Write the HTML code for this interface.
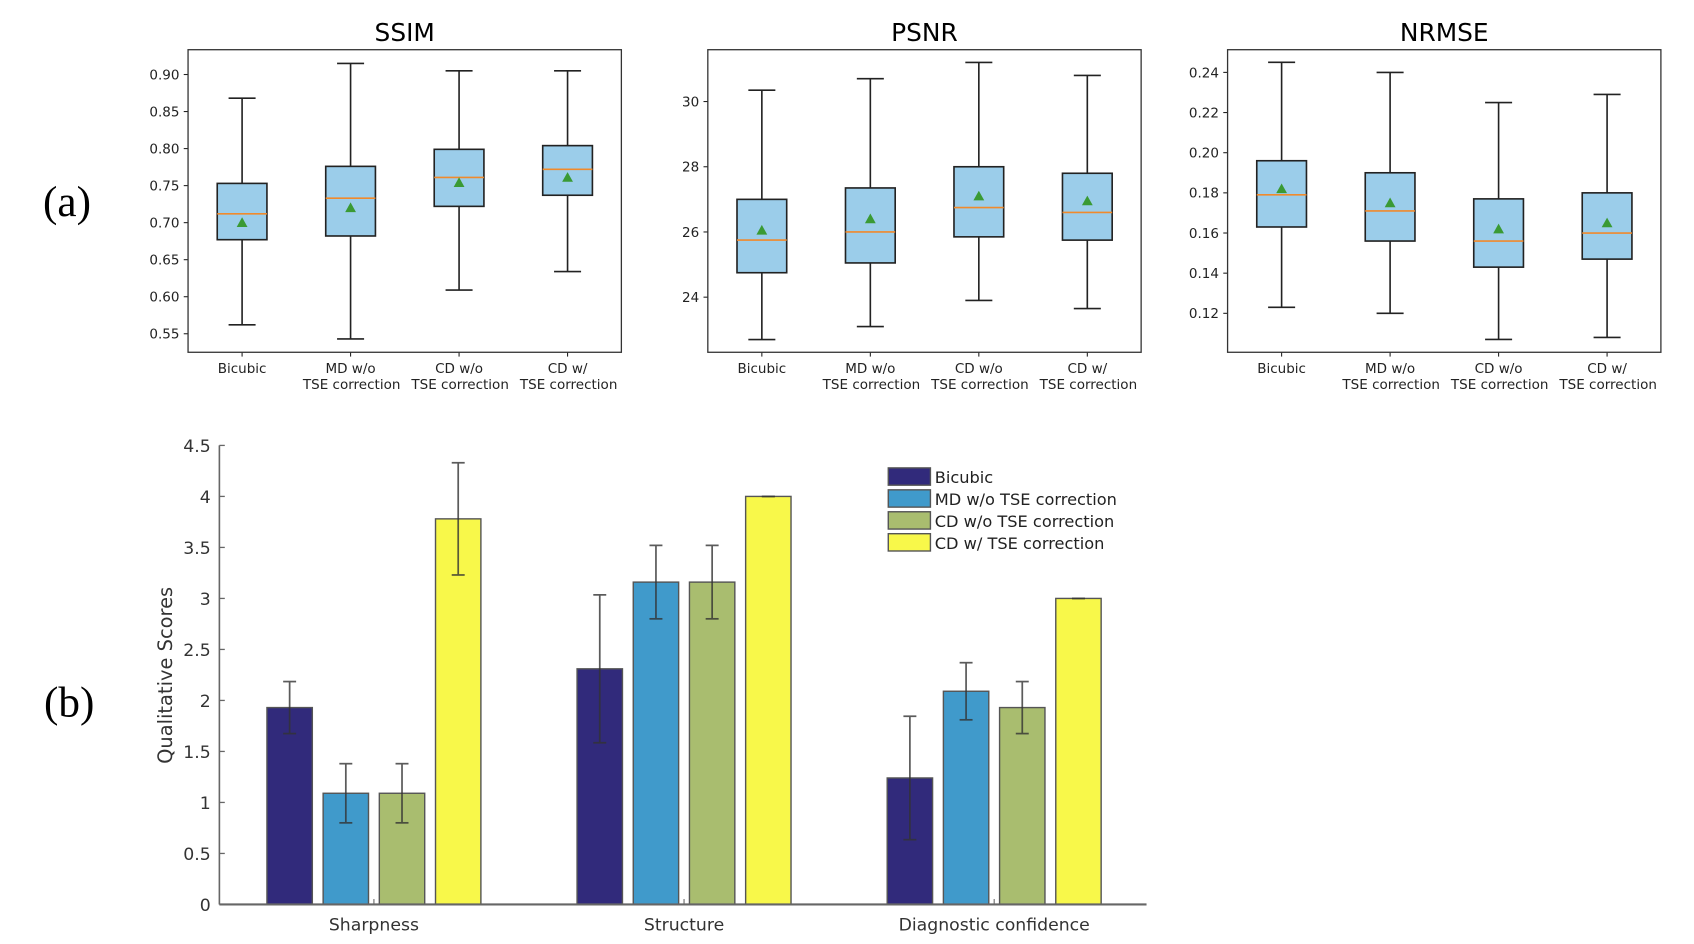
<!DOCTYPE html>
<html><head><meta charset="utf-8"><style>
html,body{margin:0;padding:0;background:#fff;}
svg{display:block;font-family:"DejaVu Sans","Liberation Sans",sans-serif;}
</style></head><body>
<svg id="fig" width="1694" height="944" viewBox="0 0 1567.6 873.6" xmlns="http://www.w3.org/2000/svg">
<text x="62" y="200" font-family="Liberation Serif,serif" font-size="40" text-anchor="middle">(a)</text>
<text x="64" y="663" font-family="Liberation Serif,serif" font-size="40" text-anchor="middle">(b)</text>
</svg>
<script>
const NS="http://www.w3.org/2000/svg";
const svg=document.getElementById('fig');
function mk(tag,attrs,parent,txt){const e=document.createElementNS(NS,tag);for(const k in attrs)e.setAttribute(k,attrs[k]);if(txt!==undefined)e.textContent=txt;(parent||svg).appendChild(e);return e;}

// ---------- Box plot data ----------
const boxCategories=[["Bicubic",""],["MD w/o","TSE correction"],["CD w/o","TSE correction"],["CD w/","TSE correction"]];
const ssimLow=[0.562,0.543,0.609,0.634];
const ssimQ1=[0.677,0.682,0.722,0.737];
const ssimMed=[0.712,0.733,0.761,0.772];
const ssimQ3=[0.753,0.776,0.799,0.804];
const ssimHigh=[0.868,0.915,0.905,0.905];
const ssimMean=[0.700,0.720,0.754,0.761];
const ssimTicks=[0.55,0.60,0.65,0.70,0.75,0.80,0.85,0.90];
const psnrLow=[22.7,23.1,23.9,23.65];
const psnrQ1=[24.75,25.05,25.85,25.75];
const psnrMed=[25.75,26.0,26.75,26.6];
const psnrQ3=[27.0,27.35,28.0,27.8];
const psnrHigh=[30.35,30.7,31.2,30.8];
const psnrMean=[26.05,26.4,27.1,26.95];
const psnrTicks=[24,26,28,30];
const nrmseLow=[0.123,0.120,0.107,0.108];
const nrmseQ1=[0.163,0.156,0.143,0.147];
const nrmseMed=[0.179,0.171,0.156,0.160];
const nrmseQ3=[0.196,0.190,0.177,0.180];
const nrmseHigh=[0.245,0.240,0.225,0.229];
const nrmseMean=[0.182,0.175,0.162,0.165];
const nrmseTicks=[0.12,0.14,0.16,0.18,0.20,0.22,0.24];

// ---------- Bar chart data ----------
const barGroups=["Sharpness","Structure","Diagnostic confidence"];
const barSeries=["Bicubic","MD w/o TSE correction","CD w/o TSE correction","CD w/ TSE correction"];
const barBicubic=[1.93,2.31,1.24];
const barMD=[1.09,3.16,2.09];
const barCDwo=[1.09,3.16,1.93];
const barCDw=[3.78,4.0,3.0];
const errBicubic=[0.255,0.725,0.605];
const errMD=[0.29,0.36,0.28];
const errCDwo=[0.29,0.36,0.255];
const errCDw=[0.55,0.0,0.0];
const barTicks=[0,0.5,1,1.5,2,2.5,3,3.5,4,4.5];

function boxPanel(name,title,x0,ymin,ymax,ticks,dec,low,q1,med,q3,high,mean){
  const g=mk('g',{});
  const w=401,top=46,bot=326;
  const y=v=>bot-(v-ymin)/(ymax-ymin)*(bot-top);
  const xc=i=>x0+50+i*100.4;
  let t=mk('text',{x:x0+w/2,y:38,'font-size':23,'text-anchor':'middle'},g,title);
  
  ticks.forEach(v=>{
    mk('line',{x1:x0-4,x2:x0,y1:y(v),y2:y(v),stroke:'#222','stroke-width':1},g);
    let tl=mk('text',{x:x0-8,y:y(v)+4.5,'font-size':12.5,'text-anchor':'end',fill:'#222'},g,v.toFixed(dec));
    
  });
  for(let i=0;i<4;i++){
    const c=xc(i);
    const bg=mk('g',{},g);
    
    
    mk('line',{x1:c,x2:c,y1:y(high[i]),y2:y(q3[i]),stroke:'#222','stroke-width':1.5},bg);
    mk('line',{x1:c,x2:c,y1:y(q1[i]),y2:y(low[i]),stroke:'#222','stroke-width':1.5},bg);
    mk('line',{x1:c-12.5,x2:c+12.5,y1:y(high[i]),y2:y(high[i]),stroke:'#222','stroke-width':1.5},bg);
    mk('line',{x1:c-12.5,x2:c+12.5,y1:y(low[i]),y2:y(low[i]),stroke:'#222','stroke-width':1.5},bg);
    mk('rect',{x:c-23,y:y(q3[i]),width:46,height:y(q1[i])-y(q3[i]),fill:'#9bcdea',stroke:'#222','stroke-width':1.5},bg);
    mk('line',{x1:c-23,x2:c+23,y1:y(med[i]),y2:y(med[i]),stroke:'#f08a2c','stroke-width':1.5},bg);
    const my=y(mean[i]);
    mk('polygon',{points:`${c-5},${my+4} ${c+5},${my+4} ${c},${my-5}`,fill:'#3a9a34'},bg);
    mk('line',{x1:c,x2:c,y1:bot,y2:bot+4,stroke:'#222','stroke-width':1},g);
    let l1=mk('text',{x:c,y:345,'font-size':12.5,'text-anchor':'middle',fill:'#222'},g,boxCategories[i][0]);
    
    if(boxCategories[i][1]){let l2=mk('text',{x:c+1,y:360,'font-size':12.5,'text-anchor':'middle',fill:'#222'},g,boxCategories[i][1]);
    }
  }
  let fr=mk('rect',{x:x0,y:top,width:w,height:bot-top,fill:'none',stroke:'#333','stroke-width':1.2},g);
  
}
boxPanel('ssim','SSIM',174,0.525,0.9335,ssimTicks,2,ssimLow,ssimQ1,ssimMed,ssimQ3,ssimHigh,ssimMean);
boxPanel('psnr','PSNR',655,22.31,31.59,psnrTicks,0,psnrLow,psnrQ1,psnrMed,psnrQ3,psnrHigh,psnrMean);
boxPanel('nrmse','NRMSE',1136,0.1006,0.2513,nrmseTicks,2,nrmseLow,nrmseQ1,nrmseMed,nrmseQ3,nrmseHigh,nrmseMean);

// ---------- Bar chart ----------
(function(){
  const g=mk('g',{});
  const ax=203,y0=837,ppu=94.4;
  const y=v=>y0-v*ppu;
  const gc=i=>346+i*287;
  const colors=['#312a7b','#409acb','#a9bd6f','#f8f84a'];
  const vals=[barBicubic,barMD,barCDwo,barCDw];
  const errs=[errBicubic,errMD,errCDwo,errCDw];
  barTicks.forEach(v=>{
    mk('line',{x1:ax,x2:ax+5,y1:y(v),y2:y(v),stroke:'#666','stroke-width':1.2},g);
    let tl=mk('text',{x:ax-8,y:y(v)+6,'font-size':16,'text-anchor':'end',fill:'#333'},g,String(v));
    
  });
  for(let gi=0;gi<3;gi++){
    for(let s=0;s<4;s++){
      const cx=gc(gi)-78+s*52,v=vals[s][gi],e=errs[s][gi];
      const b=mk('rect',{x:cx-21,y:y(v),width:42,height:y0-y(v),fill:colors[s],stroke:'#555','stroke-width':1.3},g);
      
      
      const eg=mk('g',{stroke:'#333','stroke-width':1.6,opacity:0.8},g);
      
      
      mk('line',{x1:cx,x2:cx,y1:y(v+e),y2:y(v-e)},eg);
      mk('line',{x1:cx-6,x2:cx+6,y1:y(v+e),y2:y(v+e)},eg);
      mk('line',{x1:cx-6,x2:cx+6,y1:y(v-e),y2:y(v-e)},eg);
    }
    mk('line',{x1:gc(gi),x2:gc(gi),y1:y0,y2:y0-5,stroke:'#666','stroke-width':1},g);
    let gl=mk('text',{x:gc(gi),y:861,'font-size':16,'text-anchor':'middle',fill:'#333'},g,barGroups[gi]);
    
  }
  mk('line',{x1:ax,x2:ax,y1:y0,y2:y(4.5),stroke:'#666','stroke-width':1.5},g);
  mk('line',{x1:ax,x2:1061,y1:y0,y2:y0,stroke:'#666','stroke-width':2},g);
  let yl=mk('text',{x:0,y:0,'font-size':18,'text-anchor':'middle',fill:'#333',transform:'translate(159,625) rotate(-90)'},g,'Qualitative Scores');
  
  for(let s=0;s<4;s++){
    const lg=mk('g',{},g);
    
    
    mk('rect',{x:822,y:433+s*20.3,width:39,height:16,fill:colors[s],stroke:'#555','stroke-width':1.3},lg);
    mk('text',{x:865,y:447+s*20.3,'font-size':15,fill:'#222'},lg,barSeries[s]);
  }
})();
</script>
</body></html>
